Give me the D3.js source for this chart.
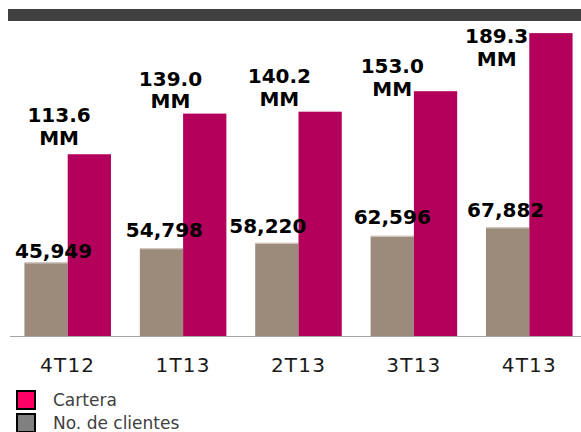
<!DOCTYPE html>
<html>
<head>
<meta charset="utf-8">
<script src="https://cdn.jsdelivr.net/npm/d3@7"></script>
<style>
  body { margin: 0; background: #fff; }
  svg { display: block; font-family: Verdana, "DejaVu Sans", sans-serif; }
</style>
</head>
<body>
<script>
// data
var quarters = ["4T12", "1T13", "2T13", "3T13", "4T13"];
var cartera = [113.6, 139.0, 140.2, 153.0, 189.3];     // MM
var clientes = [45949, 54798, 58220, 62596, 67882];

// hand nudges of the value labels, as they sit in the original
var carteraNudge = [[13, -32], [9, -28], [2.5, -28.5], [0, -18], [-11, 10]];
var clientesNudge = [[7.5, -4.5], [3, -11.5], [-9, -9.5], [0, -12], [-2, -10]];

var width = 581, height = 432;
var baseY = 336;

var svg = d3.select("body")
    .append("svg")
    .attr("width", width)
    .attr("height", height);

// dark band at top
svg.append("rect")
    .attr("x", 8).attr("y", 9)
    .attr("width", width - 8).attr("height", 12)
    .attr("fill", "#404040");

var x = d3.scaleBand().domain(quarters).range([10, 587]).paddingInner(0.25).paddingOuter(0.125);
var xs = d3.scaleBand().domain(["clientes", "cartera"]).range([0, x.bandwidth()]);
var y = d3.scaleLinear().domain([0, 200]).range([baseY, 16]);
var y2 = d3.scaleLinear().domain([0, 200000]).range([baseY, 16]);

var fmt = d3.format(",");

// clientes bars
svg.selectAll("rect.cli").data(clientes)
    .enter()
    .append("rect")
    .attr("class", "cli")
    .attr("x", (d, i) => x(quarters[i]) + xs("clientes"))
    .attr("y", d => y2(d))
    .attr("width", xs.bandwidth())
    .attr("height", d => baseY - y2(d))
    .attr("fill", "#9c8b7b");

// thin light edge on top of the gray bars
svg.selectAll("line.cliedge").data(clientes)
    .enter()
    .append("line")
    .attr("x1", (d, i) => x(quarters[i]) + xs("clientes"))
    .attr("x2", (d, i) => x(quarters[i]) + xs("clientes") + xs.bandwidth())
    .attr("y1", d => y2(d) + 0.5)
    .attr("y2", d => y2(d) + 0.5)
    .attr("stroke", "#d6cec6")
    .attr("stroke-width", 1);

// cartera bars
svg.selectAll("rect.car").data(cartera)
    .enter()
    .append("rect")
    .attr("class", "car")
    .attr("x", (d, i) => x(quarters[i]) + xs("cartera"))
    .attr("y", d => y(d))
    .attr("width", xs.bandwidth())
    .attr("height", d => baseY - y(d))
    .attr("fill", "#b3005b");

// baseline
svg.append("line")
    .attr("x1", 10).attr("x2", width)
    .attr("y1", baseY + 0.5).attr("y2", baseY + 0.5)
    .attr("stroke", "#a6a6a6")
    .attr("stroke-width", 1);

// x axis labels
var xAxis = d3.axisBottom(x).tickSize(0).tickPadding(0);
var gx = svg.append("g")
    .attr("transform", "translate(0," + baseY + ")")
    .call(xAxis);
gx.select(".domain").remove();
gx.selectAll("text")
    .attr("dy", null)
    .attr("y", 36)
    .attr("font-size", 20)
    .attr("letter-spacing", 1.2)
    .attr("font-family", "Verdana, 'DejaVu Sans', sans-serif")
    .attr("fill", "#1a1a1a");

// value labels, clientes
svg.selectAll("text.clilab").data(clientes)
    .enter()
    .append("text")
    .attr("class", "clilab")
    .attr("x", (d, i) => x(quarters[i]) + xs("clientes") + xs.bandwidth() / 2 + clientesNudge[i][0])
    .attr("y", (d, i) => y2(d) + clientesNudge[i][1])
    .attr("text-anchor", "middle")
    .attr("font-size", 20)
    .attr("font-weight", "bold")
    .attr("fill", "#000")
    .text(d => fmt(d));

// value labels, cartera (two lines)
var carLab = svg.selectAll("text.carlab").data(cartera)
    .enter()
    .append("text")
    .attr("class", "carlab")
    .attr("text-anchor", "middle")
    .attr("font-size", 20)
    .attr("font-weight", "bold")
    .attr("fill", "#000");

carLab.append("tspan")
    .attr("x", (d, i) => x(quarters[i]) + xs("clientes") + xs.bandwidth() / 2 + carteraNudge[i][0])
    .attr("y", (d, i) => y(d) + carteraNudge[i][1])
    .text(d => d.toFixed(1));
carLab.append("tspan")
    .attr("x", (d, i) => x(quarters[i]) + xs("clientes") + xs.bandwidth() / 2 + carteraNudge[i][0])
    .attr("dy", 22.5)
    .text("MM");

// legend
var legendItems = [{label: "Cartera", color: "#ff0066"}, {label: "No. de clientes", color: "#808080"}];
var legend = svg.selectAll("g.legend").data(legendItems)
    .enter()
    .append("g")
    .attr("class", "legend")
    .attr("transform", (d, i) => "translate(17," + (391 + i * 23) + ")");

legend.append("rect")
    .attr("width", 18)
    .attr("height", 18)
    .attr("fill", d => d.color)
    .attr("stroke", "#000")
    .attr("stroke-width", 2);

legend.append("text")
    .attr("x", 36)
    .attr("y", 15)
    .attr("font-size", 17)
    .attr("fill", "#404040")
    .text(d => d.label);
</script>
</body>
</html>
